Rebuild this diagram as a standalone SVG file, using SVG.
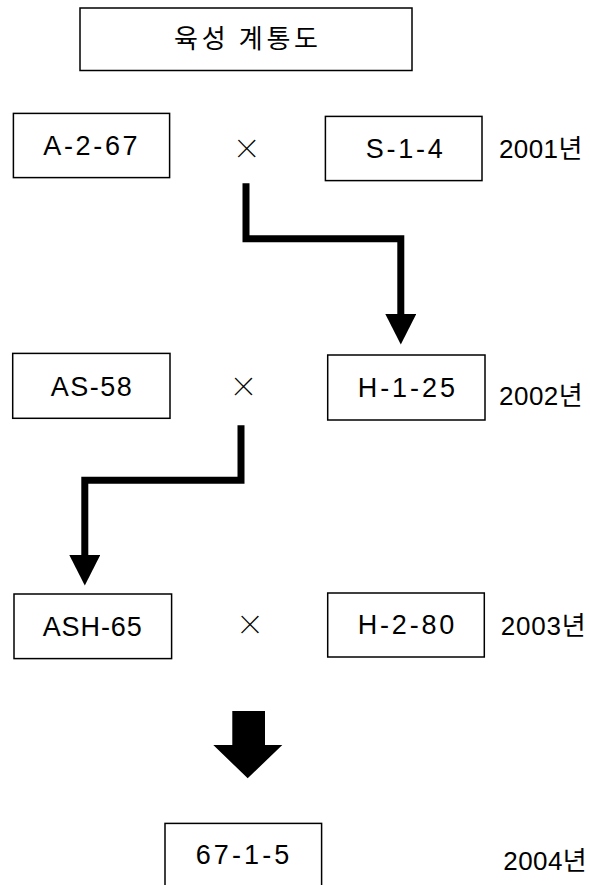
<svg xmlns="http://www.w3.org/2000/svg" width="590" height="885" viewBox="0 0 590 885">
  <style>
    .box { fill: #fff; stroke: #000; stroke-width: 1.5; }
    .lbl { font-family: "Liberation Sans", Arial, sans-serif; font-size: 27px; fill: #000; }
    .yr { font-family: "Liberation Sans", "Noto Sans CJK KR", sans-serif; font-size: 26px; fill: #000; }
    .ttl { font-family: "Noto Sans CJK KR", "Liberation Sans", sans-serif; font-size: 26px; fill: #000; }
    .cross { font-family: "Liberation Sans", Arial, sans-serif; font-size: 46px; fill: #000; stroke: #fff; stroke-width: 1.8; text-anchor: middle; }
    .conn { fill: none; stroke: #000; stroke-width: 7; stroke-linejoin: miter; stroke-linecap: butt; }
  </style>
  <defs>
    <marker id="head" markerUnits="userSpaceOnUse" viewBox="0 0 30.5 31" refX="0" refY="15.5" markerWidth="30.5" markerHeight="31" orient="auto">
      <path d="M0,0 L30.5,15.5 L0,31 Z" fill="#000"/>
    </marker>
  </defs>
  <rect width="590" height="885" fill="#fff"/>

  <g id="title">
    <rect class="box" x="80" y="8" width="332" height="62.5"/>
    <text class="ttl" x="174" y="48" textLength="144" lengthAdjust="spacing">육성 계통도</text>
  </g>

  <g id="n-A-2-67">
    <rect class="box" x="13.4" y="113.4" width="156.2" height="64.2"/>
    <text class="lbl" x="43.3" y="155.3" textLength="94.3" lengthAdjust="spacing">A-2-67</text>
  </g>
  <text class="cross" x="246.7" y="163.5">×</text>
  <g id="n-S-1-4">
    <rect class="box" x="325.4" y="116.4" width="156.6" height="64.2"/>
    <text class="lbl" x="365.7" y="158" textLength="77" lengthAdjust="spacing">S-1-4</text>
  </g>
  <text class="yr" x="499" y="158.3" textLength="83.3" lengthAdjust="spacing">2001년</text>

  <g id="n-AS-58">
    <rect class="box" x="12.7" y="353.4" width="157.3" height="64.9"/>
    <text class="lbl" x="50.7" y="396" textLength="81" lengthAdjust="spacing">AS-58</text>
  </g>
  <text class="cross" x="243.5" y="402.2">×</text>
  <g id="n-H-1-25">
    <rect class="box" x="327.7" y="355" width="157.3" height="65"/>
    <text class="lbl" x="357.7" y="397.3" textLength="97.3" lengthAdjust="spacing">H-1-25</text>
  </g>
  <text class="yr" x="499" y="405" textLength="83.7" lengthAdjust="spacing">2002년</text>

  <g id="n-ASH-65">
    <rect class="box" x="14" y="594" width="157.6" height="64.6"/>
    <text class="lbl" x="42.7" y="636" textLength="99" lengthAdjust="spacing">ASH-65</text>
  </g>
  <text class="cross" x="250" y="640.2">×</text>
  <g id="n-H-2-80">
    <rect class="box" x="327.7" y="593" width="156.6" height="64"/>
    <text class="lbl" x="357.7" y="634.3" textLength="96.6" lengthAdjust="spacing">H-2-80</text>
  </g>
  <text class="yr" x="500.7" y="635" textLength="85" lengthAdjust="spacing">2003년</text>

  <g id="n-67-1-5">
    <rect class="box" x="165" y="823.4" width="156.6" height="64.6"/>
    <text class="lbl" x="195.7" y="864.3" textLength="93.6" lengthAdjust="spacing">67-1-5</text>
  </g>
  <text class="yr" x="503.3" y="870" textLength="83.4" lengthAdjust="spacing">2004년</text>

  <g id="connectors">
    <polyline class="conn" points="246,183.3 246,238.7 400.8,238.7 400.8,314" marker-end="url(#head)"/>
    <polyline class="conn" points="241,425.3 241,480.3 84.8,480.3 84.8,555" marker-end="url(#head)"/>
    <polygon points="232.3,711 265,711 265,745 282.3,745 247.7,778.3 213.3,745 232.3,745" fill="#000"/>
  </g>
</svg>
